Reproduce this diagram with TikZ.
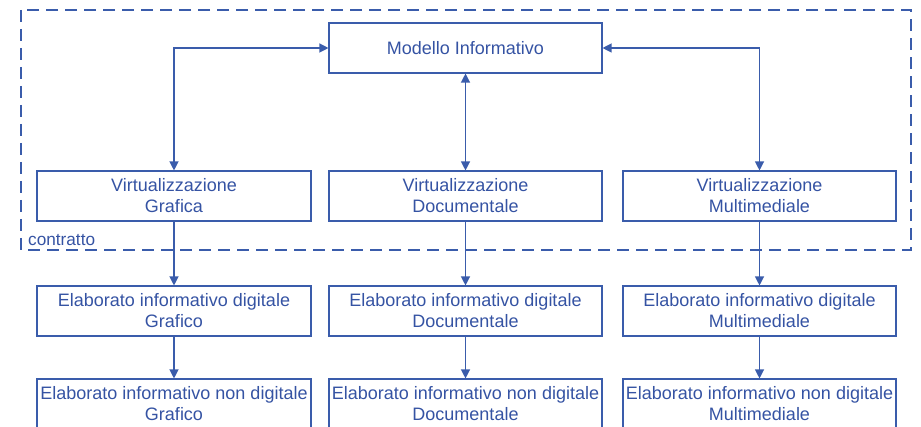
\documentclass[tikz,border=0pt]{standalone}
\usepackage{fontspec}
\setmainfont{Liberation Sans}
\usetikzlibrary{arrows.meta}
\definecolor{txtblue}{HTML}{3553A3}
\definecolor{lineblue}{HTML}{3A5CAB}
\tikzset{
  box/.style={draw=lineblue, line width=1.1pt, minimum width=273pt, minimum height=50pt,
    inner sep=0pt, align=center, text=txtblue,
    font=\fontsize{18}{21}\selectfont},
  conn/.style={draw=lineblue, line width=1.2pt},
  tip/.style={-{Triangle[length=9pt,width=9pt]}},
  bitip/.style={{Triangle[length=9pt,width=9pt]}-{Triangle[length=9pt,width=9pt]}},
  contr/.style={draw=lineblue, line width=2.2pt, dash pattern=on 12pt off 7pt},
}
\begin{document}
\begin{tikzpicture}[x=1pt,y=-1pt]
\useasboundingbox (0,0) rectangle (921,427);
\draw[contr] (21,10) rectangle (911,250);
\node[anchor=west, text=txtblue, inner sep=0pt, font=\fontsize{17.2}{20}\selectfont] (ct) at (28,240) {contratto};

\node[box] (mi) at (465.5,48) {Modello Informativo};

\node[box, minimum width=274pt] (vg) at (174,196) {Virtualizzazione\\Grafica};
\node[box] (vd) at (465.5,196) {Virtualizzazione\\Documentale};
\node[box] (vm) at (759.5,196) {Virtualizzazione\\Multimediale};

\node[box, minimum width=274pt] (eg) at (174,311) {Elaborato informativo digitale\\Grafico};
\node[box] (ed) at (465.5,311) {Elaborato informativo digitale\\Documentale};
\node[box] (em) at (759.5,311) {Elaborato informativo digitale\\Multimediale};

\node[box, minimum width=274pt] (ng) at (174,404) {Elaborato informativo non digitale\\Grafico};
\node[box] (nd) at (465.5,404) {Elaborato informativo non digitale\\Documentale};
\node[box] (nm) at (759.5,404) {Elaborato informativo non digitale\\Multimediale};

\draw[conn, bitip] (vg.north) |- (mi.west);
\draw[conn, bitip] (vm.north) |- (mi.east);
\draw[conn, bitip] (mi.south) -- (vd.north);

\draw[conn, tip] (vg.south) -- (eg.north);
\draw[conn, tip] (vd.south) -- (ed.north);
\draw[conn, tip] (vm.south) -- (em.north);

\draw[conn, tip] (eg.south) -- (ng.north);
\draw[conn, tip] (ed.south) -- (nd.north);
\draw[conn, tip] (em.south) -- (nm.north);
\end{tikzpicture}
\end{document}
